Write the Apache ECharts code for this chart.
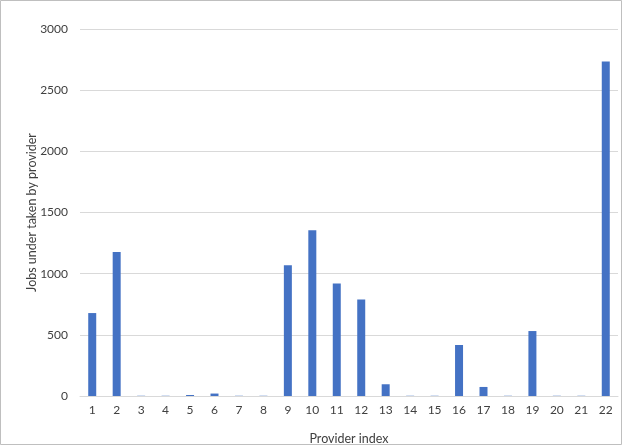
<!DOCTYPE html>
<html>
<head>
<meta charset="utf-8">
<script src="https://cdn.jsdelivr.net/npm/echarts@6/dist/echarts.min.js"></script>
<style>html,body{margin:0;padding:0;background:#fff;}#c{width:623px;height:446px;}</style>
</head>
<body>
<div id="c"></div>
<script>
const categories = ['1','2','3','4','5','6','7','8','9','10','11','12','13','14','15','16','17','18','19','20','21','22'];
const jobs = [678, 1177, 2, 2, 8, 20, 2, 2, 1068, 1355, 919, 788, 96, 2, 2, 417, 74, 2, 531, 2, 2, 2735];
const yTicks = [0, 500, 1000, 1500, 2000, 2500, 3000];

const chart = echarts.init(document.getElementById('c'));
const font = 'Lato, Liberation Sans, sans-serif';
chart.setOption({
  animation: false,
  backgroundColor: '#fff',
  graphic: [{
    type: 'rect', shape: {x: 0.5, y: 0.5, width: 621, height: 444},
    style: {fill: 'none', stroke: '#bfbfbf', lineWidth: 1}, silent: true
  }],
  grid: {left: 80, right: 5, top: 29, bottom: 50, outerBoundsMode: 'none', containLabel: false},
  xAxis: {
    type: 'category',
    data: categories,
    name: 'Provider index',
    nameLocation: 'middle',
    nameGap: 36,
    nameMoveOverlap: false,
    nameTextStyle: {fontFamily: font, fontSize: 12.5, color: '#404040'},
    axisLine: {lineStyle: {color: '#d9d9d9', width: 1}},
    axisTick: {show: false},
    axisLabel: {fontFamily: font, fontSize: 12, color: '#404040', margin: 8, interval: 0}
  },
  yAxis: {
    type: 'value',
    min: yTicks[0],
    max: yTicks[yTicks.length - 1],
    interval: 500,
    name: 'Jobs under taken by provider',
    nameLocation: 'middle',
    nameGap: 42,
    nameMoveOverlap: false,
    nameTextStyle: {fontFamily: font, fontSize: 12.5, color: '#404040'},
    axisLine: {show: false},
    axisTick: {show: false},
    splitLine: {lineStyle: {color: '#d9d9d9', width: 1}},
    axisLabel: {fontFamily: font, fontSize: 12, color: '#404040', margin: 12, formatter: v => String(v)}
  },
  series: [{
    type: 'bar',
    data: jobs,
    barWidth: 8,
    itemStyle: {color: '#4472C4'}
  }]
});
</script>
</body>
</html>
